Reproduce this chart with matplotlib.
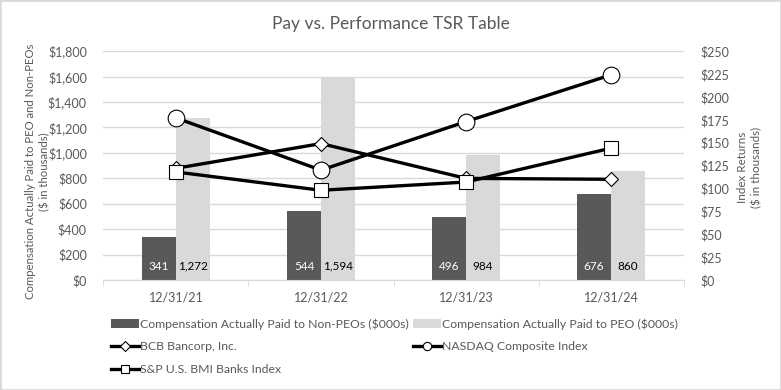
import numpy as np
import matplotlib
matplotlib.use('Agg')
import matplotlib.pyplot as plt
from matplotlib.lines import Line2D
from matplotlib.patches import Patch, Rectangle
from matplotlib.ticker import FuncFormatter, MultipleLocator, FixedLocator

plt.rcParams['font.family'] = ['Lato', 'DejaVu Sans']

# data
years = ['12/31/21', '12/31/22', '12/31/23', '12/31/24']
non_peo = [341, 544, 496, 676]
peo = [1272, 1594, 984, 860]
bcb = [122, 149, 111, 110]
nasdaq = [177, 120, 173, 224]
sp_banks = [118, 98, 107, 144]

TEXT = '#595959'
DARK = '#595959'
LIGHT = '#d9d9d9'
GRID = '#d9d9d9'

fig = plt.figure(figsize=(7.81, 3.90), dpi=100)
ax = fig.add_axes([0.1325, 0.282, 0.7427, 0.587])
ax2 = ax.twinx()

x = np.arange(len(years))
w = 0.234
ax.bar(x - w / 2, non_peo, w, color=DARK, zorder=2)
ax.bar(x + w / 2, peo, w, color=LIGHT, zorder=2)

for xi, v in zip(x, non_peo):
    ax.annotate(f'{v:,}', (xi - w / 2, 0), xytext=(0, 10), textcoords='offset points',
                ha='center', va='center', color='white', fontsize=8.5)
for xi, v in zip(x, peo):
    ax.annotate(f'{v:,}', (xi + w / 2, 0), xytext=(0, 10), textcoords='offset points',
                ha='center', va='center', color='black', fontsize=8.5)

ax.set_xlim(-0.5, 3.5)
ax.set_ylim(0, 1800)
ax.yaxis.set_major_locator(MultipleLocator(200))
ax.yaxis.set_major_formatter(FuncFormatter(lambda v, p: f'${v:,.0f}'))
ax.grid(axis='y', color=GRID, linewidth=1, zorder=0)
ax.set_axisbelow(True)

ax.set_xticks(x)
ax.set_xticklabels(years)
ax.xaxis.set_minor_locator(FixedLocator(np.arange(-0.5, 4, 1)))
ax.tick_params(axis='x', which='major', length=0, pad=8, labelsize=9, labelcolor=TEXT)
ax.tick_params(axis='x', which='minor', length=4, color=GRID, direction='out')
ax.tick_params(axis='y', length=0, labelsize=9, labelcolor=TEXT, pad=12)

for s in ['top', 'left', 'right']:
    ax.spines[s].set_visible(False)
    ax2.spines[s].set_visible(False)
ax.spines['bottom'].set_color(GRID)
ax2.spines['bottom'].set_visible(False)

lw = 2.4
ax2.plot(x, bcb, color='black', lw=lw, marker='D', ms=7, mfc='white', mec='black', mew=0.8, zorder=3)
ax2.plot(x, nasdaq, color='black', lw=lw, marker='o', ms=12, mfc='white', mec='black', mew=0.8, zorder=4)
ax2.plot(x, sp_banks, color='black', lw=lw, marker='s', ms=10, mfc='white', mec='black', mew=0.8, zorder=5)

ax2.set_ylim(0, 250)
ax2.yaxis.set_major_locator(MultipleLocator(25))
ax2.yaxis.set_major_formatter(FuncFormatter(lambda v, p: f'${v:,.0f}'))
ax2.tick_params(axis='y', length=0, labelsize=9, labelcolor=TEXT, pad=12)

fig.text(0.5, 0.938, 'Pay vs. Performance TSR Table', ha='center', va='center',
         fontsize=12.5, color=TEXT)
fig.text(0.048, 0.56, 'Compensation Actually Paid to PEO and Non-PEOs\n($ in thousands)',
         ha='center', va='center', rotation=90, fontsize=8.2, color=TEXT, linespacing=1.3)
fig.text(0.960, 0.57, 'Index Returns\n($ in thousands)',
         ha='center', va='center', rotation=90, fontsize=8.4, color=TEXT, linespacing=1.3)

handles = [
    Patch(facecolor=DARK, label='Compensation Actually Paid to Non-PEOs ($000s)'),
    Line2D([], [], color='black', lw=lw, marker='D', ms=5, mfc='white', mec='black', mew=0.8,
           label='BCB Bancorp, Inc.'),
    Line2D([], [], color='black', lw=lw, marker='s', ms=6, mfc='white', mec='black', mew=0.8,
           label='S&P U.S. BMI Banks Index'),
    Patch(facecolor=LIGHT, label='Compensation Actually Paid to PEO ($000s)'),
    Line2D([], [], color='black', lw=lw, marker='o', ms=6, mfc='white', mec='black', mew=0.8,
           label='NASDAQ Composite Index'),
]
fig.legend(handles=handles, ncol=2, loc='upper left', bbox_to_anchor=(0.142, 0.184),
           frameon=False, fontsize=8.8, labelcolor=TEXT, handlelength=2.3, handletextpad=0.1,
           columnspacing=0.3, labelspacing=0.95, borderaxespad=0, borderpad=0)

fig.patches.append(Rectangle((0, 0), 1, 1, transform=fig.transFigure, fill=False,
                             edgecolor='#d9d9d9', linewidth=2))

fig.savefig('out.png', dpi=100, facecolor='white')
